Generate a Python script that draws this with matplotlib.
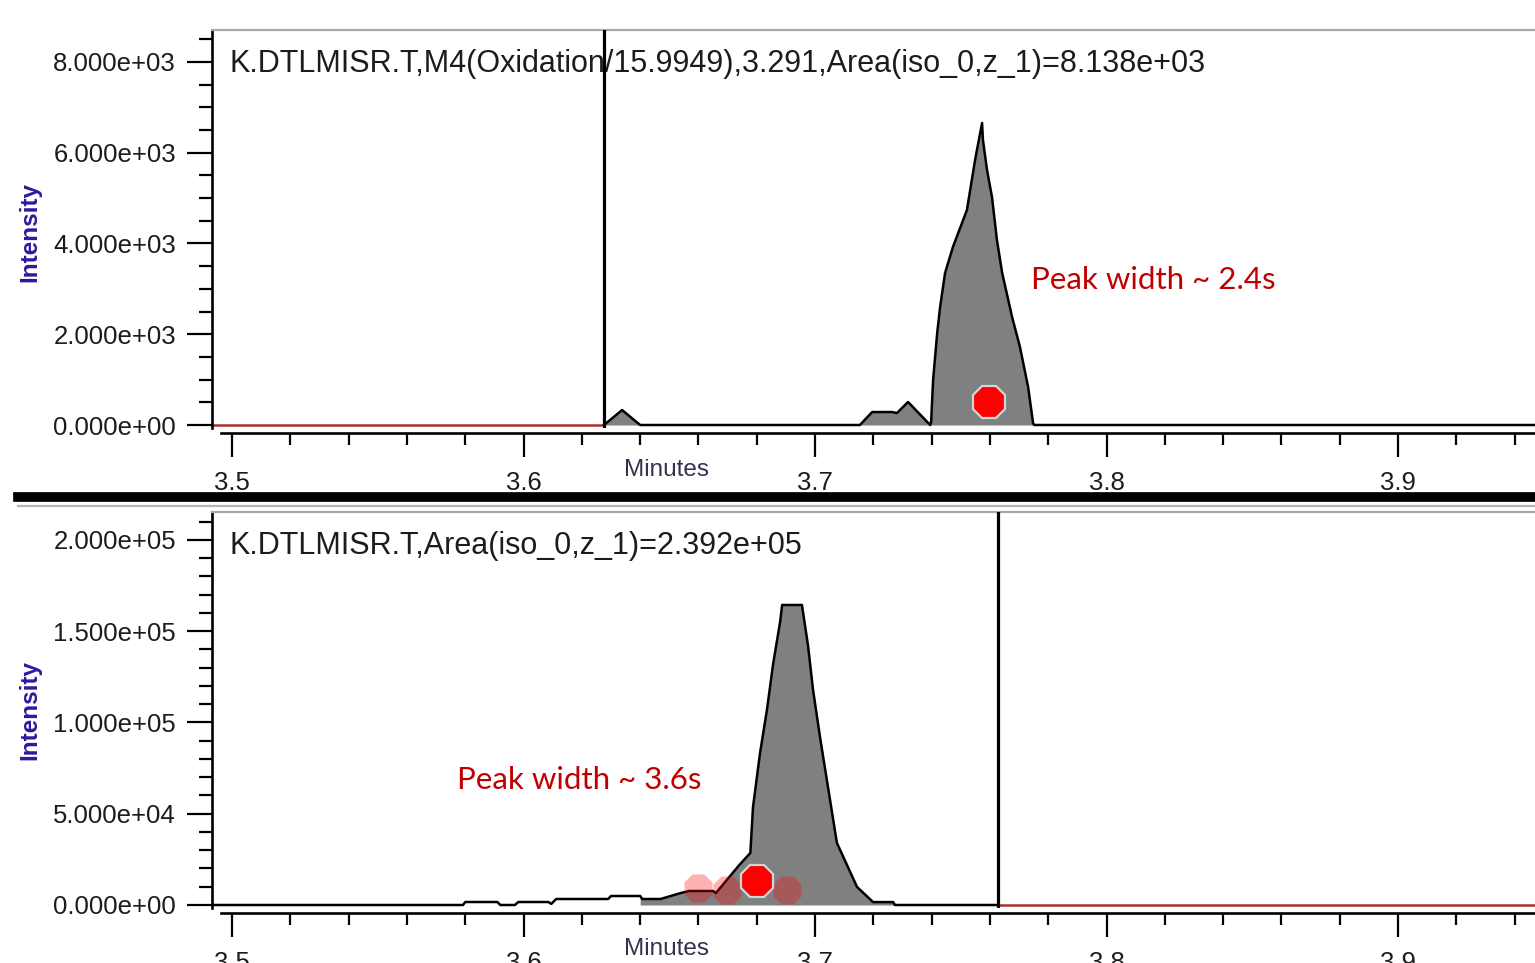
import matplotlib
matplotlib.use("Agg")
import numpy as np
import matplotlib.pyplot as plt
from matplotlib.lines import Line2D
from matplotlib.ticker import MultipleLocator, FormatStrFormatter

plt.rcParams['font.family'] = ['Liberation Sans', 'DejaVu Sans']

W, H = 1535, 963

# ---------------- data ----------------
x_range = [3.4931, 3.9470]
x_major_step = 0.1
x_minor_step = 0.02

# top panel: oxidised peptide
top_title = "K.DTLMISR.T,M4(Oxidation/15.9949),3.291,Area(iso_0,z_1)=8.138e+03"
top_note = "Peak width ~ 2.4s"
top_note_pos = (3.7741, 3196)
top_cursor = 3.6276
top_ylim = (-66, 8705)
top_y_major = 2000
top_y_minor = 500
top_out_rt = [3.4931, 3.6276]
top_out_int = [0, 0]
top_rt = [3.6276, 3.6338, 3.6400, 3.7154, 3.7196, 3.7264, 3.7281, 3.7319,
          3.7395, 3.7398, 3.7405, 3.7419, 3.7429, 3.7446, 3.7473, 3.7521,
          3.7549, 3.7573, 3.7576, 3.7590, 3.7607, 3.7624, 3.7642, 3.7676,
          3.7703, 3.7731, 3.7748, 3.7752, 3.9470]
top_int = [0, 330, 0, 0, 286, 286, 264, 507,
           0, 44, 992, 2027, 2600, 3350, 3923, 4738,
           5840, 6656, 6281, 5620, 5025, 4077, 3350, 2380,
           1719, 837, 40, 0, 0]
top_marker_rt = [3.7597]
top_marker_int = [507]

# bottom panel: unmodified peptide
bot_title = "K.DTLMISR.T,Area(iso_0,z_1)=2.392e+05"
bot_note = "Peak width ~ 3.6s"
bot_note_pos = (3.5772, 68493)
bot_cursor = 3.7628
bot_ylim = (-1644, 215342)
bot_y_major = 50000
bot_y_minor = 10000
bot_fill_start = 3.6400
bot_rt = [3.4931, 3.5792, 3.5800, 3.5910, 3.5920, 3.5970, 3.5982, 3.6085,
          3.6095, 3.6112, 3.6290, 3.6300, 3.6400, 3.6407, 3.6470, 3.6540,
          3.6568, 3.6650, 3.6660, 3.6740, 3.6778, 3.6787, 3.6811, 3.6835,
          3.6856, 3.6880, 3.6887, 3.6955, 3.6976, 3.6993, 3.7017, 3.7045,
          3.7075, 3.7144, 3.7199, 3.7268, 3.7274, 3.7628]
bot_int = [0, 0, 1640, 1640, 0, 0, 1640, 1640,
           600, 3290, 3290, 4930, 4930, 3290, 3290, 6600,
           7670, 7670, 6580, 21900, 28500, 53500, 83000, 107000,
           132000, 155000, 164400, 164400, 142000, 118000, 92000, 64000,
           34000, 9900, 1600, 1600, 0, 0]
bot_out_rt = [3.7628, 3.9470]
bot_out_int = [0, 0]
bot_marker_rt = [3.6801]
bot_marker_int = [13150]
bot_ghost_rt = [3.6599, 3.6698, 3.6904]
bot_ghost_int = [9500, 8300, 8300]

x_label = "Minutes"
y_label = "Intensity"

# ---------------- styling ----------------
RED_LINE = "#a83232"
FILL = "#808080"
NOTE_RED = "#c00000"
YLAB = "#2a1a9e"
TXT = "#1c1c1c"

fig = plt.figure(figsize=(W / 100, H / 100), dpi=100)
fig.patch.set_facecolor("white")


def px_axes(left, top, right, bottom):
    return fig.add_axes([left / W, 1 - bottom / H, (right - left) / W, (bottom - top) / H])


def style(ax, ylim, ymaj, ymin):
    ax.set_xlim(*x_range)
    ax.set_ylim(*ylim)
    ax.spines['right'].set_visible(False)
    ax.spines['top'].set_color('#a8a8a8')
    ax.spines['top'].set_linewidth(1.6)
    ax.spines['left'].set_linewidth(1.9)
    ax.spines['left'].set_color('black')
    ax.spines['bottom'].set_position(('outward', 3.6))
    ax.spines['bottom'].set_linewidth(1.9)
    ax.spines['bottom'].set_bounds(3.4962, x_range[1])
    ax.xaxis.set_major_locator(MultipleLocator(x_major_step))
    ax.xaxis.set_minor_locator(MultipleLocator(x_minor_step))
    ax.xaxis.set_major_formatter(FormatStrFormatter('%.1f'))
    ax.yaxis.set_major_locator(MultipleLocator(ymaj))
    ax.yaxis.set_minor_locator(MultipleLocator(ymin))
    ax.yaxis.set_major_formatter(FormatStrFormatter('%.3e'))
    ax.tick_params(axis='x', which='major', length=17, width=1.6, pad=10.5,
                   labelsize=18.5, labelcolor=TXT, direction='out')
    ax.tick_params(axis='x', which='minor', length=8.5, width=1.6, direction='out')
    ax.tick_params(axis='y', which='major', length=18, width=1.6, pad=8,
                   labelsize=18.5, labelcolor=TXT, direction='out')
    ax.tick_params(axis='y', which='minor', length=9.5, width=1.6, direction='out')


# top panel
ax1 = px_axes(212, 30, 1535, 428)
style(ax1, top_ylim, top_y_major, top_y_minor)
rt = np.array(top_rt)
it = np.array(top_int)
ax1.fill_between(rt, it, 0, color=FILL, lw=0, zorder=1)
ax1.plot(top_out_rt, top_out_int, color=RED_LINE, lw=1.8, zorder=2)
ax1.plot(rt, it, color='black', lw=1.8, zorder=3)
ax1.axvline(top_cursor, color='black', lw=2.3, zorder=4)
ax1.plot(top_marker_rt, top_marker_int, ls='none', marker='8', ms=25,
         mfc='#ff0000', mec='#c8dada', mew=1.6, zorder=5)
ax1.text(229 / W, 1 - 64 / H, top_title, transform=fig.transFigure,
         fontsize=22, color=TXT, va='center', ha='left')
ax1.text(*top_note_pos, top_note, fontsize=22.5, color=NOTE_RED, va='center', ha='left',
         family=['Lato', 'DejaVu Sans'])

# bottom panel
ax2 = px_axes(212, 512, 1535, 908)
style(ax2, bot_ylim, bot_y_major, bot_y_minor)
rb = np.array(bot_rt)
ib = np.array(bot_int)
mask = rb >= bot_fill_start
ax2.fill_between(rb[mask], ib[mask], 0, color=FILL, lw=0, zorder=1)
ax2.plot(rb, ib, color='black', lw=1.8, zorder=3)
ax2.plot(bot_out_rt, bot_out_int, color=RED_LINE, lw=1.8, zorder=2)
ax2.axvline(bot_cursor, color='black', lw=2.3, zorder=4)
ax2.plot(bot_ghost_rt, bot_ghost_int, ls='none', marker='8', ms=22,
         mfc='#ff0000', mec='none', alpha=0.3, zorder=5)
ax2.plot(bot_marker_rt, bot_marker_int, ls='none', marker='8', ms=25,
         mfc='#ff0000', mec='#c8dada', mew=1.6, zorder=6)
ax2.text(229 / W, 1 - 546 / H, bot_title, transform=fig.transFigure,
         fontsize=22, color=TXT, va='center', ha='left')
ax2.text(*bot_note_pos, bot_note, fontsize=22.5, color=NOTE_RED, va='center', ha='left',
         family=['Lato', 'DejaVu Sans'])

# axis labels
for ycen in (232, 710):
    fig.text(30 / W, 1 - ycen / H, y_label, rotation=90, ha='center', va='center',
             fontsize=17.5, fontweight='bold', color=YLAB)
for ycen in (470, 949):
    fig.text(666 / W, 1 - ycen / H, x_label, ha='center', va='center',
             fontsize=17.5, color='#33334d')

# panel separator
fig.add_artist(Line2D([18 / W, 1], [1 - 497 / H, 1 - 497 / H], color='black', lw=7,
                      transform=fig.transFigure))
fig.add_artist(Line2D([18 / W, 1], [1 - 506 / H, 1 - 506 / H], color='#b4b4b4', lw=1.6,
                      transform=fig.transFigure))

fig.savefig("out.png", dpi=100, facecolor="white")
